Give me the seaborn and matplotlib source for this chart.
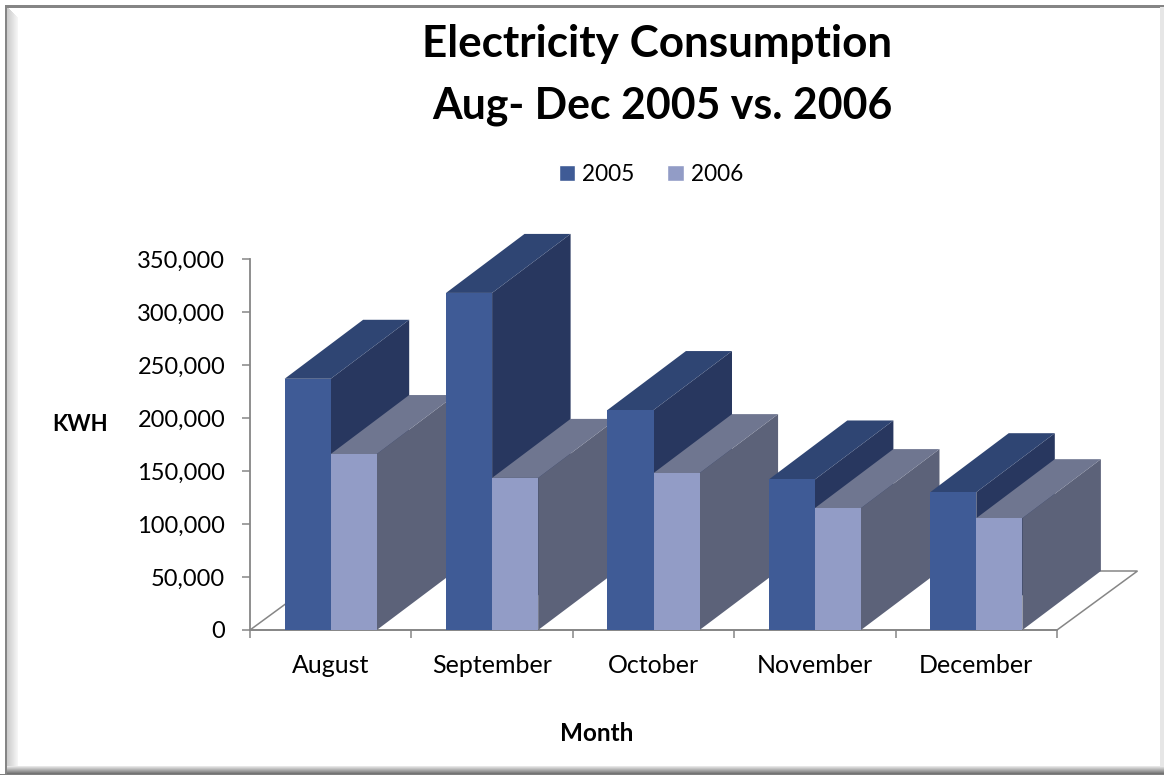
import numpy as np
import pandas as pd
import matplotlib
matplotlib.use("Agg")
import matplotlib.pyplot as plt
from matplotlib.patches import Polygon, Rectangle
from matplotlib.ticker import FuncFormatter, FixedLocator
import seaborn as sns

months = ["August", "September", "October", "November", "December"]
kwh_2005 = [237000, 318000, 207500, 142000, 130000]
kwh_2006 = [166000, 143500, 148000, 115000, 105500]
years = ["2005", "2006"]

FRONT = ["#3F5B96", "#929CC6"]
TOP = ["#2F4573", "#6F7690"]
SIDE = ["#28375F", "#5C6279"]
AXC = "#868686"

W, H = 1164, 775
sns.set_theme(style="white")
plt.rcParams["font.family"] = ["Lato", "DejaVu Sans"]

fig = plt.figure(figsize=(W / 100, H / 100), dpi=100, facecolor="white")
L, R, T, B = 250, 1057, 259, 630
ax = fig.add_axes([L / W, 1 - B / H, (R - L) / W, (B - T) / H])
ax.patch.set_alpha(0)

df = pd.DataFrame({
    "month": months * 2,
    "year": [years[0]] * 5 + [years[1]] * 5,
    "kwh": kwh_2005 + kwh_2006,
})
sns.barplot(data=df, x="month", y="kwh", hue="year", palette=FRONT,
            width=0.571, gap=0, saturation=1, errorbar=None, ax=ax)

ax.set_xlim(-0.5, 4.5)
ax.set_ylim(0, 350000)

# oblique depth of the pseudo-3D view, in data units
per_cat = (R - L) / 5
per_val = 350000 / (B - T)
DX, DY = 78.5 / per_cat, 59 * per_val
FLOOR_DX = 80.5 / per_cat

ax.add_patch(Polygon([(-0.5, 0), (-0.5 + FLOOR_DX, DY), (4.5 + FLOOR_DX, DY), (4.5, 0)],
                     closed=True, facecolor="white", edgecolor=AXC, lw=1.1,
                     clip_on=False, zorder=1))

for j, cont in enumerate(ax.containers[:2]):
    for i, p in enumerate(cont.patches):
        x0, w, h = p.get_x(), p.get_width(), p.get_height()
        base = 10 * (i + 1) + 3 * j
        p.set_zorder(base + 2)
        p.set_edgecolor("none")
        p.set_clip_on(False)
        ax.add_patch(Polygon([(x0 + w, 0), (x0 + w + DX, DY), (x0 + w + DX, h + DY), (x0 + w, h)],
                             closed=True, facecolor=SIDE[j], edgecolor="none",
                             clip_on=False, zorder=base))
        ax.add_patch(Polygon([(x0, h), (x0 + DX, h + DY), (x0 + w + DX, h + DY), (x0 + w, h)],
                             closed=True, facecolor=TOP[j], edgecolor="none",
                             clip_on=False, zorder=base + 1))

# axes
sns.despine(ax=ax)
for s in ("left", "bottom"):
    ax.spines[s].set_color(AXC)
    ax.spines[s].set_linewidth(1.3)
ax.yaxis.set_major_formatter(FuncFormatter(lambda v, _: f"{int(v):,}"))
ax.set_yticks(np.arange(0, 350001, 50000))
ax.tick_params(axis="y", which="major", left=True, length=5.8, width=1.1, color=AXC,
               labelsize=17, labelcolor="black", pad=12)
ax.xaxis.set_minor_locator(FixedLocator(np.arange(-0.5, 5, 1)))
ax.tick_params(axis="x", which="minor", bottom=True, length=5.8, width=1.1, color=AXC)
ax.tick_params(axis="x", which="major", bottom=False, length=0, labelsize=18,
               labelcolor="black", pad=17)
ax.set_xlabel("")
ax.set_ylabel("")

handles, labels = ax.get_legend_handles_labels()
ax.get_legend().remove()
leg = fig.legend(handles, labels, loc="center", bbox_to_anchor=(651 / W, 1 - 174.5 / H),
                 ncol=2, frameon=False, fontsize=16.3, handlelength=0.72, handleheight=0.72,
                 handletextpad=0.3, columnspacing=1.45)
for t in leg.get_texts():
    t.set_color("black")

fig.text(80 / W, 1 - 425 / H, "KWH", fontsize=16, fontweight="bold", color="black",
         ha="center", va="center")
fig.text(597 / W, 1 - 733.5 / H, "Month", fontsize=17.5, fontweight="bold", color="black",
         ha="center", va="center")
fig.text(657.5 / W, 1 - 57 / H, "Electricity Consumption", fontsize=31.7, fontweight="bold",
         color="black", ha="center", va="baseline")
fig.text(662.5 / W, 1 - 118 / H, "Aug- Dec 2005 vs. 2006", fontsize=30.8, fontweight="bold",
         color="black", ha="center", va="baseline")

# bevelled frame of the chart area, in figure pixels
def box(x0, y0, x1, y1, c, z=-5):
    fig.add_artist(Rectangle((x0 / W, 1 - y1 / H), (x1 - x0) / W, (y1 - y0) / H,
                             transform=fig.transFigure, facecolor=c, edgecolor="none", zorder=z))

for k, c in enumerate(np.linspace(0.80, 0.96, 11)):
    box(7 + k, 7 + k, 8 + k, 768, str(round(float(c), 3)))
box(5, 5, 1164, 7.5, "#858585")
box(5, 5, 7, 775, "#858585")
box(1160, 7, 1164, 768, "#E6E6E6")
for k, c in enumerate(np.linspace(0.90, 0.45, 8)):
    box(7, 766 + k, 1164, 767 + k, str(round(float(c), 3)))
box(0, 774, 1164, 775, "#808080")

fig.savefig("out.png", dpi=100, facecolor="white")
